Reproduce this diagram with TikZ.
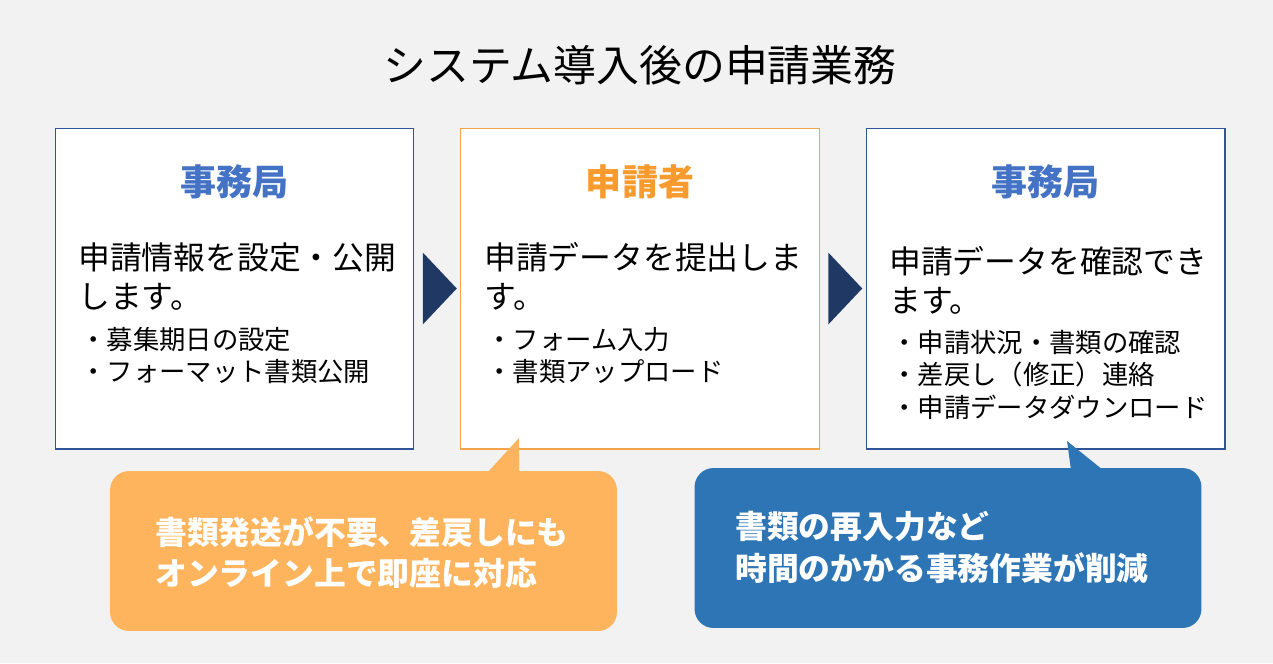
\documentclass[tikz,border=0pt]{standalone}
\usepackage{fontspec}
\setmainfont{Noto Sans CJK JP}
\usetikzlibrary{calc}
\definecolor{bg}{RGB}{242, 242, 242}
\definecolor{kyoku}{RGB}{47, 85, 151}
\definecolor{kyokuhead}{RGB}{68, 114, 196}
\definecolor{shinsei}{RGB}{244, 164, 72}
\definecolor{shinseihead}{RGB}{247, 155, 46}
\definecolor{navy}{RGB}{32, 56, 100}
\definecolor{fukiorange}{RGB}{253, 180, 92}
\definecolor{fukiblue}{RGB}{46, 117, 182}

\begin{document}
\begin{tikzpicture}[x=0.02cm, y=-0.02cm,
  box/.style={draw, fill=white, line width=0.6pt, minimum width=7.18cm, minimum height=6.42cm, inner sep=0},
  head/.style={font=\bfseries\fontsize{20.5}{24}\selectfont},
  body/.style={anchor=north west, inner sep=0, align=left, font=\fontsize{18.1}{22.2}\selectfont},
  items/.style={anchor=north west, inner sep=0, align=left, font=\fontsize{15}{18.4}\selectfont},
  fuki/.style={rounded corners=0.38cm, minimum width=10.14cm, minimum height=3.2cm, inner sep=0},
  fukitext/.style={anchor=north west, inner sep=0, align=left, text=white, font=\bfseries\fontsize{18.1}{23.4}\selectfont}]
  \fill[bg] (0, 0) rectangle (1273, 663);
  \useasboundingbox (0, 0) rectangle (1273, 663);

  \node[font=\fontsize{24.4}{28}\selectfont] (title) at (640, 65) {システム導入後の申請業務};

  % three steps
  \node[box, draw=kyoku] (step1) at (234.5, 288.5) {};
  \node[box, draw=shinsei] (step2) at (640, 288.5) {};
  \node[box, draw=kyoku] (step3) at (1045.5, 288.5) {};

  \node[head, text=kyokuhead] (head1) at ($(step1.north)+(0, 54)$) {事務局};
  \node[head, text=shinseihead] (head2) at ($(step2.north)+(0, 54)$) {申請者};
  \node[head, text=kyokuhead] (head3) at ($(step3.north)+(0, 54)$) {事務局};

  \node[body] (text1) at (78, 242) {申請情報を設定・公開\\します。};
  \node[items] (list1) at (80, 327) {・募集期日の設定\\・フォーマット書類公開};

  \node[body] (text2) at (484, 242) {申請データを提出しま\\す。};
  \node[items] (list2) at (486, 327) {・フォーム入力\\・書類アップロード};

  \node[body] (text3) at (889, 246) {申請データを確認でき\\ます。};
  \node[items] (list3) at (891, 330) {・申請状況・書類の確認\\・差戻し（修正）連絡\\・申請データダウンロード};

  % arrows between steps
  \coordinate (mid1) at ($(step1.east)!0.5!(step2.west)$);
  \coordinate (mid2) at ($(step2.east)!0.5!(step3.west)$);
  \fill[navy] ($(mid1)+(-14.5, -36)$) -- ($(mid1)+(19.5, 0)$) -- ($(mid1)+(-14.5, 36)$) -- cycle;
  \fill[navy] ($(mid2)+(-14.5, -36)$) -- ($(mid2)+(19.5, 0)$) -- ($(mid2)+(-14.5, 36)$) -- cycle;

  % speech bubbles
  \node[fuki, fill=fukiorange] (fuki1) at (363.5, 551) {};
  \fill[fukiorange] (487, 473) -- (519, 438) -- (519, 473) -- cycle;
  \node[fukitext] (fukitext1) at (155, 516) {書類発送が不要、差戻しにも\\オンライン上で即座に対応};

  \node[fuki, fill=fukiblue] (fuki2) at (948, 548) {};
  \fill[fukiblue] (1071, 470) -- (1067, 441) -- (1103, 470) -- cycle;
  \node[fukitext, font=\bfseries\fontsize{18.1}{24}\selectfont] (fukitext2) at (735, 511) {書類の再入力など\\時間のかかる事務作業が削減};
\end{tikzpicture}
\end{document}
